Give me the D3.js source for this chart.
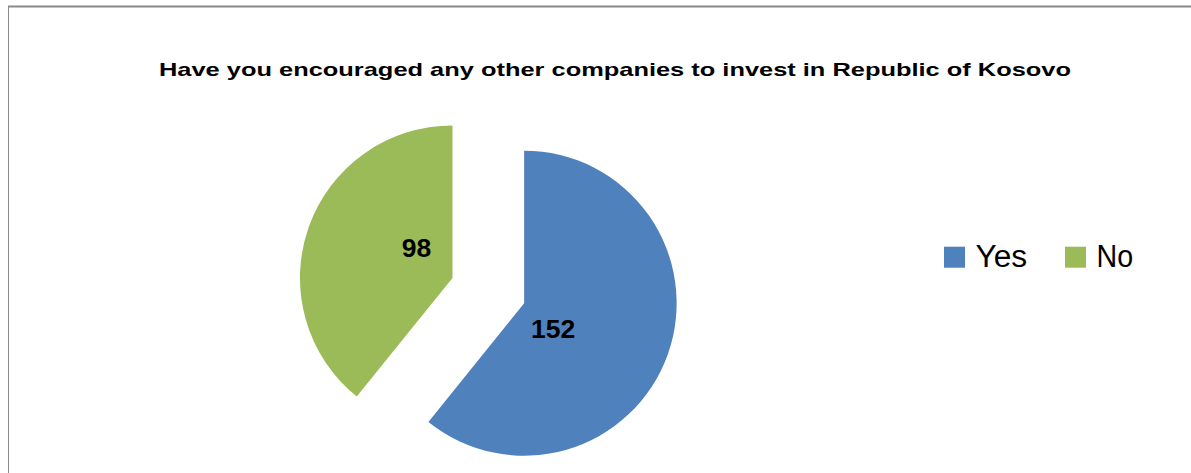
<!DOCTYPE html>
<html>
<head>
<meta charset="utf-8">
<script src="https://cdn.jsdelivr.net/npm/d3@7"></script>
<style>
  html, body { margin: 0; padding: 0; background: #fff; }
  svg { display: block; }
  text { font-family: "Liberation Sans", Arial, Helvetica, sans-serif; }
</style>
</head>
<body>
<svg id="chart" width="1191" height="473"></svg>
<script>
// Survey answers
const categories = ["Yes", "No"];
const counts = [152, 98];
const title = "Have you encouraged any other companies to invest in Republic of Kosovo";

// Presentation
const colors = ["#4F81BD", "#9BBB59"];
const explode = [73, 3];              // px each slice is pulled out from the centre
const labelNudge = [[29, 35], [-36, -21]]; // label baseline relative to slice apex

const W = 1191, H = 473;
const svg = d3.select("#chart");

svg.append("rect").attr("width", W).attr("height", H).attr("fill", "#fff");

// chart frame
svg.append("line").attr("x1", 8).attr("x2", W).attr("y1", 6.5).attr("y2", 6.5)
  .attr("stroke", "#8a8a8a").attr("stroke-width", 2);
svg.append("line").attr("x1", 8.5).attr("x2", 8.5).attr("y1", 6).attr("y2", H)
  .attr("stroke", "#8a8a8a").attr("stroke-width", 1);

// title
svg.append("text")
  .attr("x", 159).attr("y", 76)
  .attr("font-size", 19).attr("font-weight", "bold").attr("fill", "#000")
  .attr("textLength", 912).attr("lengthAdjust", "spacingAndGlyphs")
  .text(title);

// pie
const cx = 455.3, cy = 278.9, R = 152.5;
const data = categories.map((c, i) => ({ cat: c, value: counts[i], i }));
const pie = d3.pie().sort(null).value(d => d.value);
const arc = d3.arc().innerRadius(0).outerRadius(R);
const arcs = pie(data);

const g = svg.append("g").attr("transform", `translate(${cx},${cy})`);
const slice = g.selectAll("g.slice").data(arcs).join("g")
  .attr("class", "slice")
  .attr("transform", d => {
    const a = (d.startAngle + d.endAngle) / 2;
    const o = explode[d.data.i];
    return `translate(${Math.sin(a) * o},${-Math.cos(a) * o})`;
  });

slice.append("path")
  .attr("d", arc)
  .attr("fill", d => colors[d.data.i]);

slice.append("text")
  .attr("x", d => labelNudge[d.data.i][0])
  .attr("y", d => labelNudge[d.data.i][1])
  .attr("text-anchor", "middle")
  .attr("font-size", 26.5).attr("font-weight", "bold").attr("fill", "#000")
  .text(d => d.data.value);

// legend
const legendX = [944, 1065];
const legend = svg.append("g").selectAll("g").data(data).join("g");
legend.append("rect")
  .attr("x", d => legendX[d.i]).attr("y", 246.7)
  .attr("width", 21).attr("height", 21)
  .attr("fill", d => colors[d.i]);
legend.append("text")
  .attr("x", d => legendX[d.i] + 31.5).attr("y", 267)
  .attr("font-size", 31).attr("fill", "#000")
  .attr("textLength", d => d.i === 0 ? 51.7 : 36.6)
  .attr("lengthAdjust", "spacingAndGlyphs")
  .text(d => d.cat);
</script>
</body>
</html>
